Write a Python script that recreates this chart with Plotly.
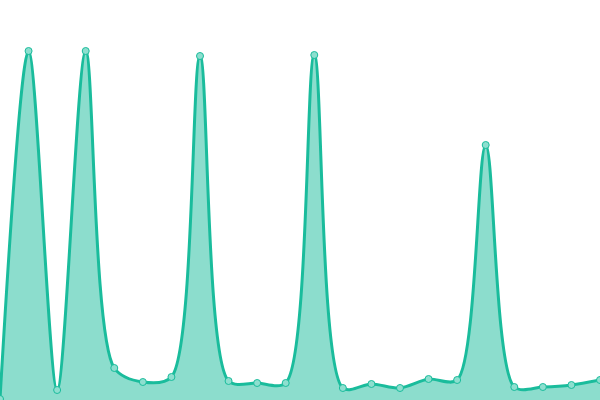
import plotly.graph_objects as go

x_vals = list(range(22))
y_vals = [1, 349, 10, 349, 32, 18, 23, 344, 19, 17, 17, 345, 12, 16, 12, 21, 20, 255, 13, 13, 15, 20]

fig = go.Figure()
fig.add_trace(go.Scatter(
    x=x_vals, y=y_vals, mode="lines+markers",
    line=dict(shape="spline", smoothing=0.85, color="#1abc9c", width=3),
    fill="tozeroy", fillcolor="rgba(26,188,156,0.5)",
    marker=dict(size=7, color="#8ddfcf", line=dict(color="#1abc9c", width=1)),
    cliponaxis=False, hoverinfo="skip"
))
fig.update_layout(
    width=600, height=400, margin=dict(l=0, r=0, t=0, b=0),
    paper_bgcolor="white", plot_bgcolor="white", showlegend=False,
    xaxis=dict(range=[0, 21], visible=False, fixedrange=True),
    yaxis=dict(range=[0, 400], visible=False, fixedrange=True),
)
fig.write_html("out.html", config={"displayModeBar": False},
               post_script="document.body.style.margin='0';document.body.style.overflow='hidden';")
